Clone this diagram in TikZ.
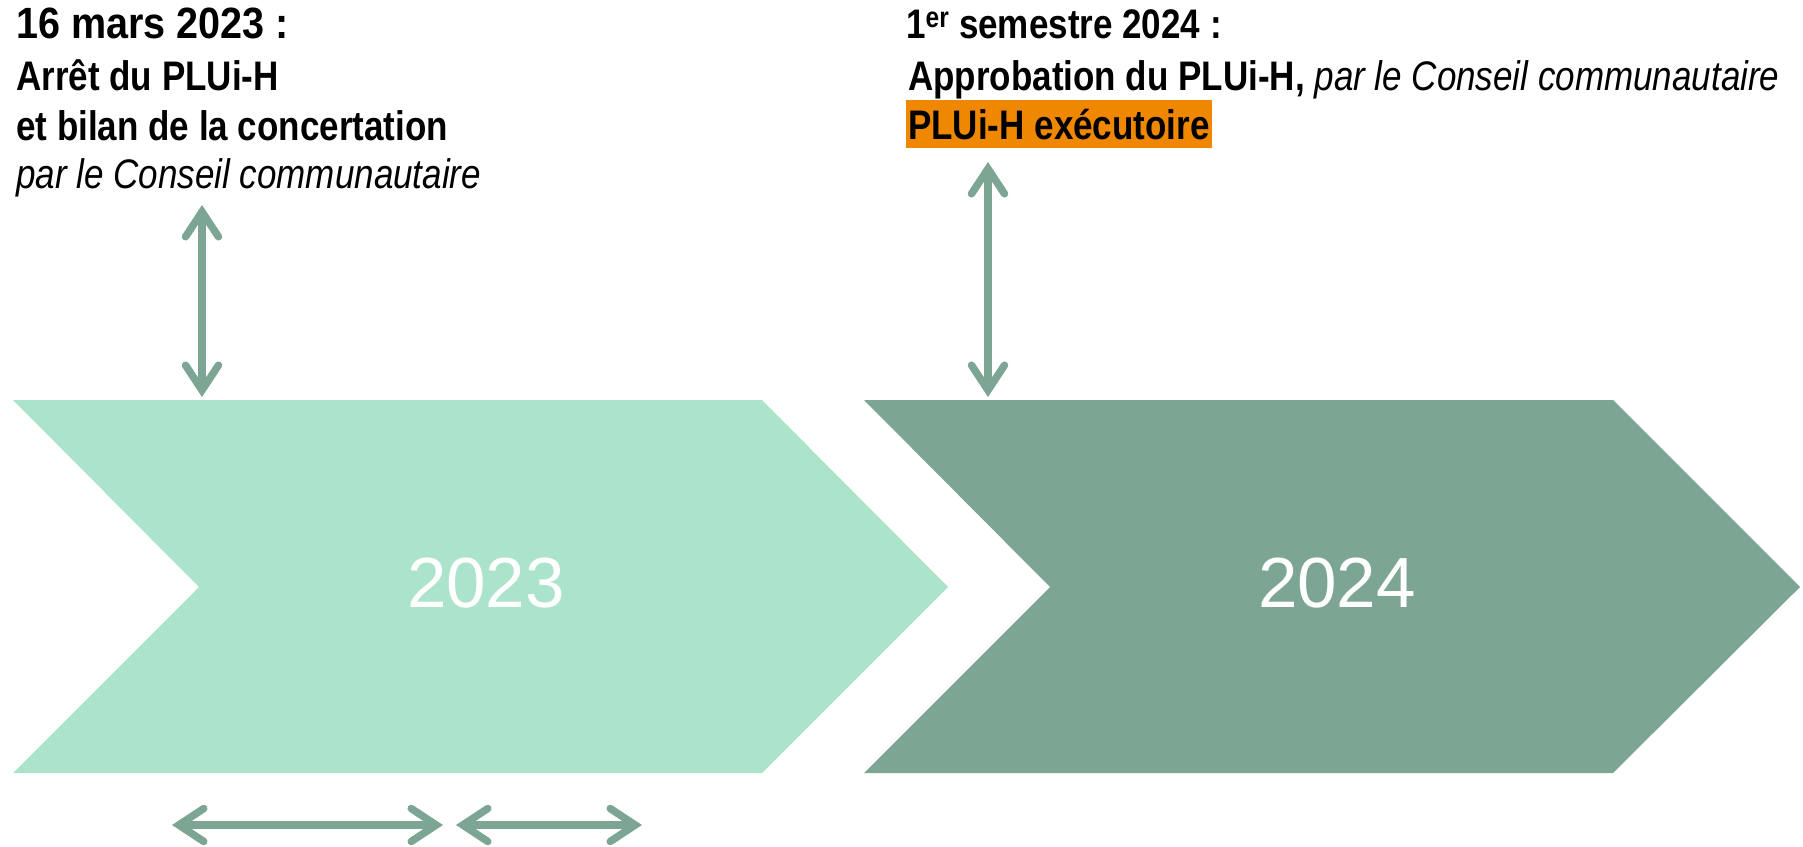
\documentclass[tikz,border=0pt]{standalone}
\usepackage{fontspec}
\setmainfont{Liberation Sans}
\usetikzlibrary{arrows.meta}
\definecolor{lightgreen}{RGB}{172,227,203}
\definecolor{darkgreen}{RGB}{124,166,147}
\definecolor{orangehl}{RGB}{239,136,0}
\newcommand{\tallt}[1]{\scalebox{1}[1.18]{#1}}
\begin{document}
\begin{tikzpicture}[x=1pt,y=-1pt,
  txt/.style={anchor=base west, inner sep=0pt, font=\fontsize{35}{42}\selectfont},
  yearlbl/.style={text=white, font=\fontsize{71}{80}\selectfont, inner sep=0pt, anchor=base},
  barb/.tip={Straight Barb[length=25pt,width=33pt,line cap=round,line join=miter]},
  dbl/.style={draw=darkgreen, line width=7.5pt, barb-barb},
]
\useasboundingbox (0,0) rectangle (1803,846);
% chevrons
\fill[lightgreen] (13,400) -- (762,400) -- (948,587) -- (762,773) -- (13,773) -- (199,587) -- cycle;
\fill[darkgreen] (864,400) -- (1613,400) -- (1800,587) -- (1613,773) -- (864,773) -- (1050,587) -- cycle;
\node[yearlbl] (y2023) at (486,607) {2023};
\node[yearlbl] (y2024) at (1337,607) {2024};
% left text
\node[txt] (l1) at (16,38) {\tallt{\scalebox{1.13}[1.06]{\bfseries 16 mars 2023 :}}};
\node[txt] (l2) at (16,90) {\tallt{\bfseries Arrêt du PLUi-H}};
\node[txt] (l3) at (16,140) {\tallt{\bfseries et bilan de la concertation}};
\node[txt] (l4) at (16,188) {\tallt{\itshape par le Conseil communautaire}};
% right text
\node[txt] (r1) at (906,38) {\tallt{\bfseries 1\textsuperscript{er} semestre 2024 :}};
\node[txt] (r2) at (908,90) {\tallt{\bfseries Approbation du PLUi-H, \itshape\mdseries par le Conseil communautaire}};
\node[txt, fill=orangehl, inner xsep=2pt, text height=39pt, text depth=9pt] (r3) at (906,139) {\tallt{\bfseries PLUi-H exécutoire}};
% arrows
\coordinate (a1t) at (202,205);
\coordinate (a1b) at (202,397);
\coordinate (a2t) at (988,162);
\coordinate (a2b) at (988,397);
\coordinate (b1l) at (172,825);
\coordinate (b1r) at (443,825);
\coordinate (b2l) at (456,825);
\coordinate (b2r) at (642,825);
\draw[dbl] (a1t) -- (a1b);
\draw[dbl] (a2t) -- (a2b);
\draw[dbl] (b1l) -- (b1r);
\draw[dbl] (b2l) -- (b2r);
\end{tikzpicture}
\end{document}
